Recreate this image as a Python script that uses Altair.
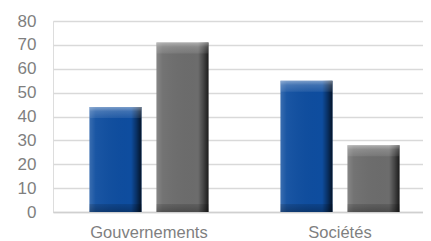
import altair as alt
import pandas as pd

categories = ["Gouvernements", "Sociétés"]
series = ["Série 1", "Série 2"]
values_s1 = [44, 55]
values_s2 = [71, 28]
y_ticks = [0, 10, 20, 30, 40, 50, 60, 70, 80]

rows = []
for c, v in zip(categories, values_s1):
    rows.append({"cat": c, "serie": series[0], "val": v})
for c, v in zip(categories, values_s2):
    rows.append({"cat": c, "serie": series[1], "val": v})
df = pd.DataFrame(rows)

FONT = "Liberation Sans"
LABEL = "#7f7f7f"

x_axis = alt.Axis(
    labelAngle=0, ticks=False, tickSize=0, domain=True, domainColor="#d0d0d0",
    domainWidth=1.5, labelColor=LABEL, labelFont=FONT, labelFontSize=16.5,
    labelBaseline="alphabetic", labelPadding=25, grid=False, labelOverlap=False,
)
x_scale = alt.Scale(paddingInner=0.377, paddingOuter=0.157, align=0.608)
y_axis = alt.Axis(
    values=y_ticks, ticks=False, tickSize=0, domain=False, grid=True,
    gridColor="#d9d9d9", gridWidth=1.5, labelColor=LABEL, labelFont=FONT,
    labelFontSize=17, labelPadding=17, labelOverlap=False,
)
y_scale = alt.Scale(domain=[0, 80], nice=False)

x_enc = alt.X("cat:N", sort=categories, title=None, scale=x_scale, axis=x_axis)
xo_enc = alt.XOffset("serie:N", sort=series,
                     scale=alt.Scale(paddingInner=0.224, paddingOuter=0))
y_enc = alt.Y("val:Q", title=None, scale=y_scale, axis=y_axis)

base = alt.Chart(df)

body = base.mark_bar().encode(
    x=x_enc, xOffset=xo_enc, y=y_enc,
    color=alt.Color("serie:N", sort=series, legend=None,
                    scale=alt.Scale(domain=series, range=["#0e4d9f", "#6c6c6c"])),
)

side = base.mark_bar(
    color=alt.LinearGradient(
        gradient="linear", x1=0, x2=1, y1=0, y2=0,
        stops=[
            alt.GradientStop(color="rgba(255,255,255,0.18)", offset=0),
            alt.GradientStop(color="rgba(255,255,255,0.05)", offset=0.12),
            alt.GradientStop(color="rgba(0,0,0,0)", offset=0.8),
            alt.GradientStop(color="rgba(0,0,0,0.35)", offset=0.9),
            alt.GradientStop(color="rgba(0,0,0,0.75)", offset=1),
        ],
    )
).encode(x=x_enc, xOffset=xo_enc, y=y_enc)

top = base.mark_bar(
    y2Offset=11,
    color=alt.LinearGradient(
        gradient="linear", x1=0, x2=0, y1=0, y2=1,
        stops=[
            alt.GradientStop(color="rgba(255,255,255,0.45)", offset=0),
            alt.GradientStop(color="rgba(255,255,255,0.2)", offset=0.4),
            alt.GradientStop(color="rgba(255,255,255,0.08)", offset=1),
        ],
    ),
).encode(x=x_enc, xOffset=xo_enc, y=y_enc, y2="val:Q")

bottom = base.mark_bar(
    yOffset=-8,
    color=alt.LinearGradient(
        gradient="linear", x1=0, x2=0, y1=0, y2=1,
        stops=[
            alt.GradientStop(color="rgba(0,0,0,0.12)", offset=0),
            alt.GradientStop(color="rgba(0,0,0,0.3)", offset=1),
        ],
    ),
).encode(
    x=x_enc, xOffset=xo_enc,
    y=alt.Y(datum=0, scale=y_scale, axis=y_axis, title=None),
    y2=alt.Y2(datum=0),
)

chart = alt.layer(body, side, top, bottom).properties(
    width=370, height=191,
    autosize=alt.AutoSizeParams(type="none"),
    padding={"left": 45, "top": 13, "right": 0, "bottom": 29},
).configure_view(stroke=None).configure(background="white")

chart.save("out.html", embed_options={"renderer": "svg", "actions": False})
